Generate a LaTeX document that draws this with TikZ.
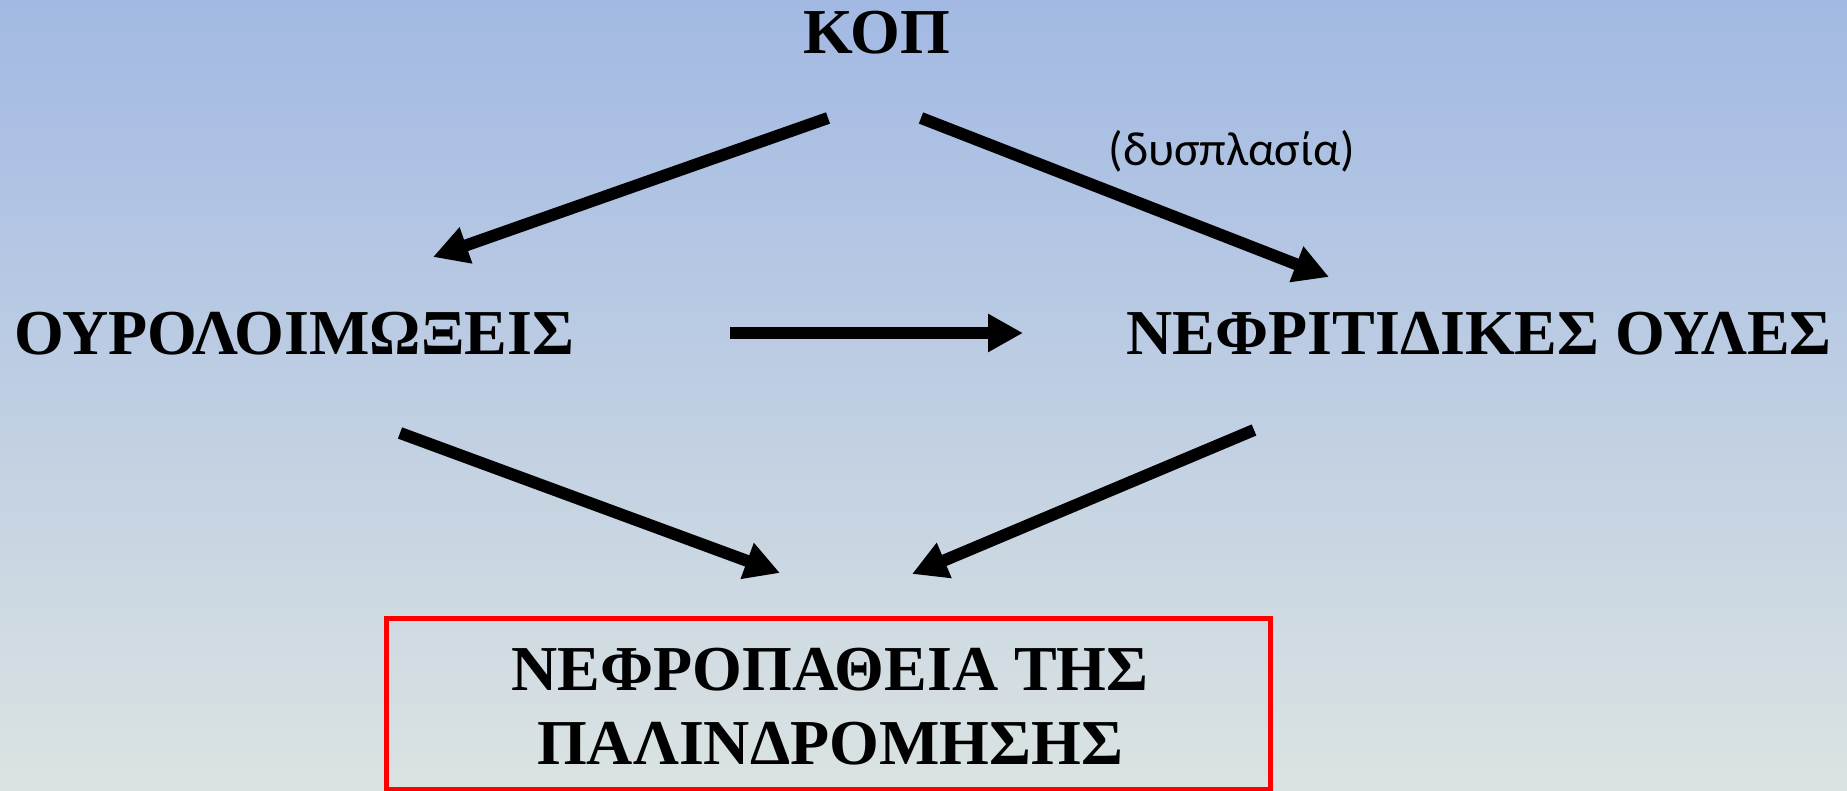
\documentclass[tikz,border=0pt]{standalone}
\usepackage{fontspec}
\setmainfont{Liberation Serif}
\newfontfamily\labelfont{Carlito}
\usetikzlibrary{arrows.meta}
\definecolor{skytop}{RGB}{162,185,227}
\definecolor{skybottom}{RGB}{219,227,226}
\definecolor{boxred}{RGB}{255,0,0}
\tikzset{
  term/.style={inner sep=0pt, font=\bfseries\fontsize{64}{74}\selectfont},
  link/.style={line width=12pt, -{Triangle[length=35pt,width=36pt]}},
}
\begin{document}
\begin{tikzpicture}[x=1pt,y=-1pt]
  % background
  \shade[top color=skytop, bottom color=skybottom] (0,0) rectangle (1847,791);
  \useasboundingbox (0,0) rectangle (1847,791);

  % terms
  \node[term] (kop) at (877,33) {ΚΟΠ};
  \node[term] (uti) at (294,334) {ΟΥΡΟΛΟΙΜΩΞΕΙΣ};
  \node[term] (scar) at (1479,334) {ΝΕΦΡΙΤΙΔΙΚΕΣ ΟΥΛΕΣ};
  \node[inner sep=0pt, font=\labelfont\fontsize{48}{56}\selectfont] (dys) at (1232,151) {(δυσπλασία)};

  % result box
  \draw[boxred, line width=5pt] (386,618) rectangle (1270,789);
  \node[term, align=center] (rn) at (830,707)
    {ΝΕΦΡΟΠΑΘΕΙΑ ΤΗΣ\\ΠΑΛΙΝΔΡΟΜΗΣΗΣ};

  % arrow end points
  \coordinate (a1s) at (828,118);  \coordinate (a1e) at (433,257);
  \coordinate (a2s) at (921,118);  \coordinate (a2e) at (1329,277);
  \coordinate (a3s) at (730,333);  \coordinate (a3e) at (1023,333);
  \coordinate (a4s) at (400,433);  \coordinate (a4e) at (780,573);
  \coordinate (a5s) at (1254,430); \coordinate (a5e) at (912,574);

  \draw[link] (a1s) -- (a1e);
  \draw[link] (a2s) -- (a2e);
  \draw[link] (a3s) -- (a3e);
  \draw[link] (a4s) -- (a4e);
  \draw[link] (a5s) -- (a5e);
\end{tikzpicture}
\end{document}
